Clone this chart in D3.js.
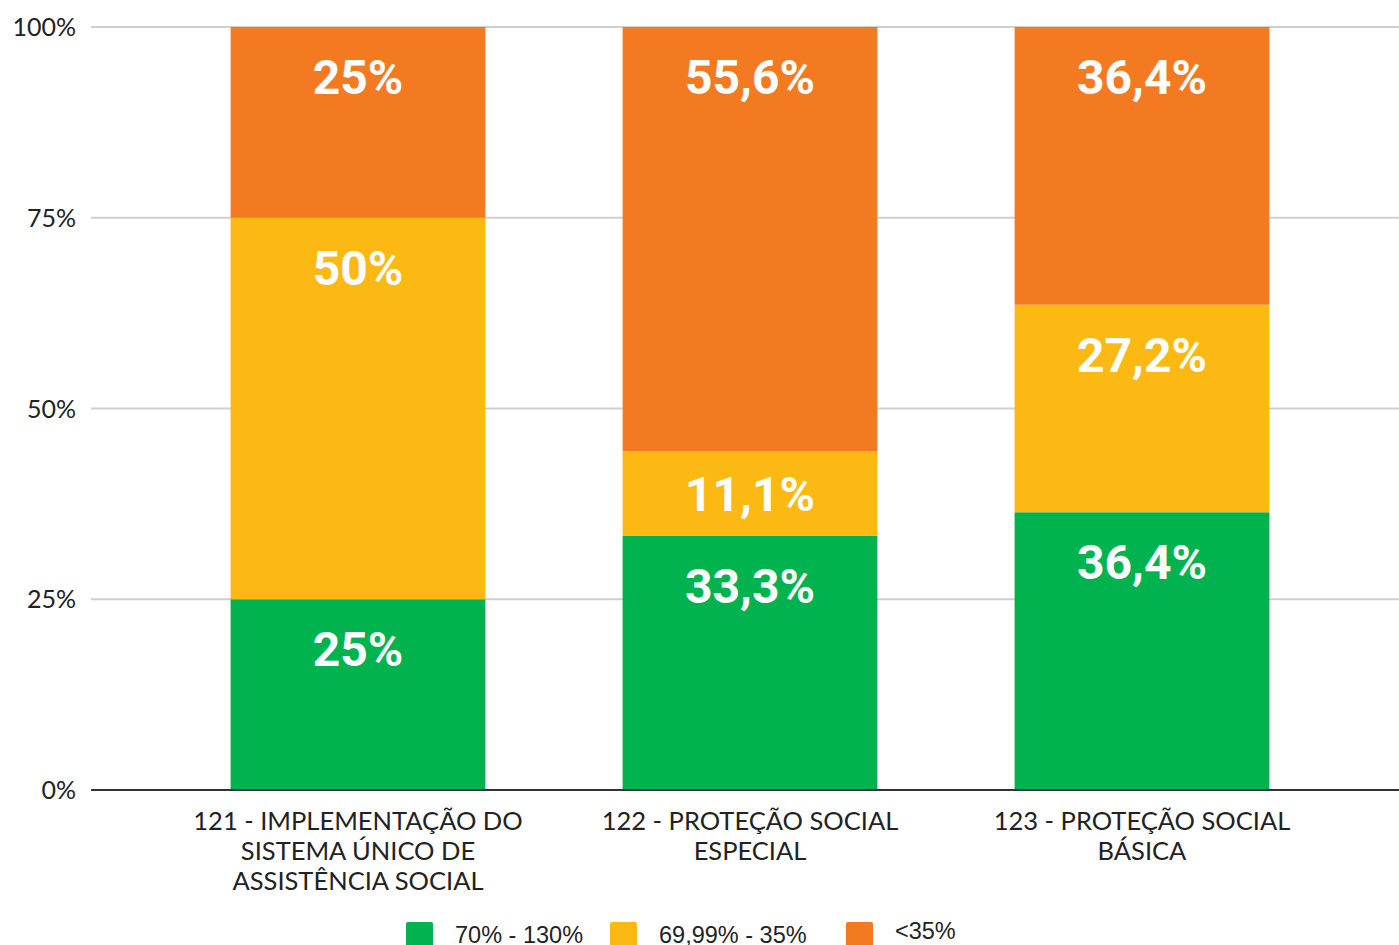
<!DOCTYPE html>
<html>
<head>
<meta charset="utf-8">
<script src="https://cdn.jsdelivr.net/npm/d3@7"></script>
<style>
  html, body { margin: 0; padding: 0; background: #fff; }
  svg { display: block; }
</style>
</head>
<body>
<div id="chart"></div>
<script>
// --- Data ---
const categories = [
  ["121 - IMPLEMENTAÇÃO DO", "SISTEMA ÚNICO DE", "ASSISTÊNCIA SOCIAL"],
  ["122 - PROTEÇÃO SOCIAL", "ESPECIAL"],
  ["123 - PROTEÇÃO SOCIAL", "BÁSICA"]
];
const seriesNames = ["70% - 130%", "69,99% - 35%", "<35%"];
const green = [25, 33.3, 36.4];
const yellow = [50, 11.1, 27.2];
const orange = [25, 55.6, 36.4];
const yTicks = [0, 25, 50, 75, 100];
const colors = ["#00B34F", "#FDB913", "#F47A22"];

// --- Layout ---
const width = 1399, height = 945;
const plotLeft = 91, plotRight = 1399, plotTop = 27, plotBottom = 790;

const svg = d3.select("#chart").append("svg")
  .attr("width", width)
  .attr("height", height);

const x = d3.scaleBand()
  .domain(d3.range(categories.length))
  .range([162, 1338])
  .paddingInner(0.35)
  .paddingOuter(0.175);

const y = d3.scaleLinear().domain([0, 100]).range([plotBottom, plotTop]);

// --- Grid ---
svg.append("g")
  .selectAll("line")
  .data(yTicks.filter(t => t > 0))
  .join("line")
  .attr("x1", plotLeft).attr("x2", plotRight)
  .attr("y1", d => y(d)).attr("y2", d => y(d))
  .attr("stroke", "#cfcfcf")
  .attr("stroke-width", 2);

// --- Y tick labels ---
svg.append("g")
  .selectAll("text")
  .data(yTicks)
  .join("text")
  .attr("x", 76)
  .attr("y", d => y(d) + 9)
  .attr("text-anchor", "end")
  .attr("font-family", "Lato, 'Open Sans', sans-serif")
  .attr("font-size", 25)
  .attr("fill", "#222")
  .text(d => d + "%");

// --- Stacked bars ---
const rows = categories.map((c, i) => ({ i, green: green[i], yellow: yellow[i], orange: orange[i] }));
const stack = d3.stack().keys(["green", "yellow", "orange"]);
const layers = stack(rows);

const fmt = v => String(v).replace(".", ",") + "%";

layers.forEach((layer, li) => {
  const g = svg.append("g");
  g.selectAll("rect")
    .data(layer)
    .join("rect")
    .attr("x", d => x(d.data.i))
    .attr("width", x.bandwidth())
    .attr("y", d => y(d[1]))
    .attr("height", d => y(d[0]) - y(d[1]))
    .attr("fill", colors[li]);

  g.selectAll("text")
    .data(layer)
    .join("text")
    .attr("x", d => x(d.data.i) + x.bandwidth() / 2)
    .attr("y", d => {
      const t = y(d[1]), b = y(d[0]);
      return Math.min(t + 50, (t + b) / 2) + 17;
    })
    .attr("text-anchor", "middle")
    .attr("font-family", "Roboto, sans-serif")
    .attr("font-weight", "bold")
    .attr("font-size", 48)
    .attr("fill", "#fff")
    .text(d => fmt(+(d[1] - d[0]).toFixed(1)));
});

// --- Baseline ---
svg.append("line")
  .attr("x1", plotLeft).attr("x2", plotRight)
  .attr("y1", y(0)).attr("y2", y(0))
  .attr("stroke", "#333")
  .attr("stroke-width", 2);

// --- Category labels ---
categories.forEach((lines, i) => {
  const t = svg.append("text")
    .attr("text-anchor", "middle")
    .attr("font-family", "Lato, 'Open Sans', sans-serif")
    .attr("font-size", 25.5)
    .attr("fill", "#222");
  lines.forEach((ln, k) => {
    t.append("tspan")
      .attr("x", x(i) + x.bandwidth() / 2)
      .attr("y", 830 + k * 30)
      .text(ln);
  });
});

// --- Legend ---
const legendX = [406, 610, 846];
const legend = svg.append("g");
seriesNames.forEach((name, i) => {
  legend.append("rect")
    .attr("x", legendX[i]).attr("y", 922)
    .attr("width", 27).attr("height", 27)
    .attr("rx", 2)
    .attr("fill", colors[i]);
  legend.append("text")
    .attr("x", legendX[i] + 49)
    .attr("y", i === 2 ? 939 : 943)
    .attr("font-family", "'Liberation Sans', Arial, sans-serif")
    .attr("font-size", 23.5)
    .attr("fill", "#222")
    .text(name);
});
</script>
</body>
</html>
